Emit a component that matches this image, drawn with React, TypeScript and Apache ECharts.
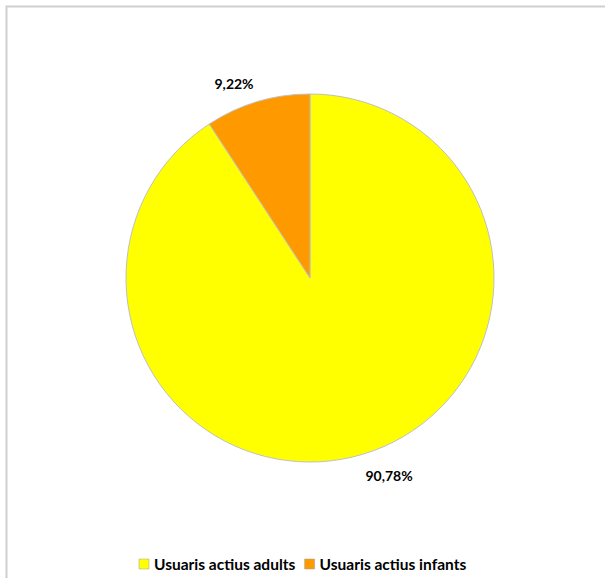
import React, { useEffect, useRef } from "react";
import * as echarts from "echarts";

const categories = ["Usuaris actius adults", "Usuaris actius infants"];
const values = [90.78, 9.22];
const labels = ["90,78%", "9,22%"];
const colors = ["#FFFF00", "#FF9900"];

export default function App() {
  const ref = useRef<HTMLDivElement>(null);
  useEffect(() => {
    if (!ref.current) return;
    const chart = echarts.init(ref.current, undefined, { renderer: "svg" });
    chart.setOption({
      animation: false,
      backgroundColor: "#ffffff",
      textStyle: { fontFamily: "Lato" },
      graphic: [
        {
          type: "rect",
          shape: { x: 6.5, y: 6.5, width: 640, height: 640 },
          style: { fill: "none", stroke: "#cfcfcf", lineWidth: 2 },
          silent: true,
        },
      ],
      legend: {
        bottom: 1,
        left: "center",
        itemWidth: 10,
        itemHeight: 10,
        itemGap: 9,
        icon: "rect",
        textStyle: { fontFamily: "Lato", fontWeight: "bold", fontSize: 15.5, color: "#000" },
        data: categories.map((c, i) => ({
          name: c,
          itemStyle: { color: colors[i], borderColor: "#a0a0a0", borderWidth: 0.5 },
        })),
      },
      series: [
        {
          type: "pie",
          center: [310, 278],
          radius: 184,
          startAngle: 90,
          clockwise: true,
          avoidLabelOverlap: false,
          itemStyle: { borderColor: "#c0c0c0", borderWidth: 1 },
          label: {
            show: true,
            position: "outside",
            fontFamily: "Lato",
            fontWeight: "bold",
            fontSize: 14,
            color: "#000",
            formatter: (p: any) => labels[p.dataIndex],
          },
          labelLine: { show: false, length: 17, length2: 0 },
          labelLayout: (p: any) => (p.dataIndex === 0 ? { dx: -7, dy: 5 } : { dx: 6, dy: -1.5 }),
          data: categories.map((c, i) => ({
            name: c,
            value: values[i],
            itemStyle: { color: colors[i] },
          })),
        },
      ],
    });
    return () => chart.dispose();
  }, []);
  return (
    <div
      ref={ref}
      style={{ position: "fixed", left: 0, top: 0, width: 605, height: 578 }}
    />
  );
}
